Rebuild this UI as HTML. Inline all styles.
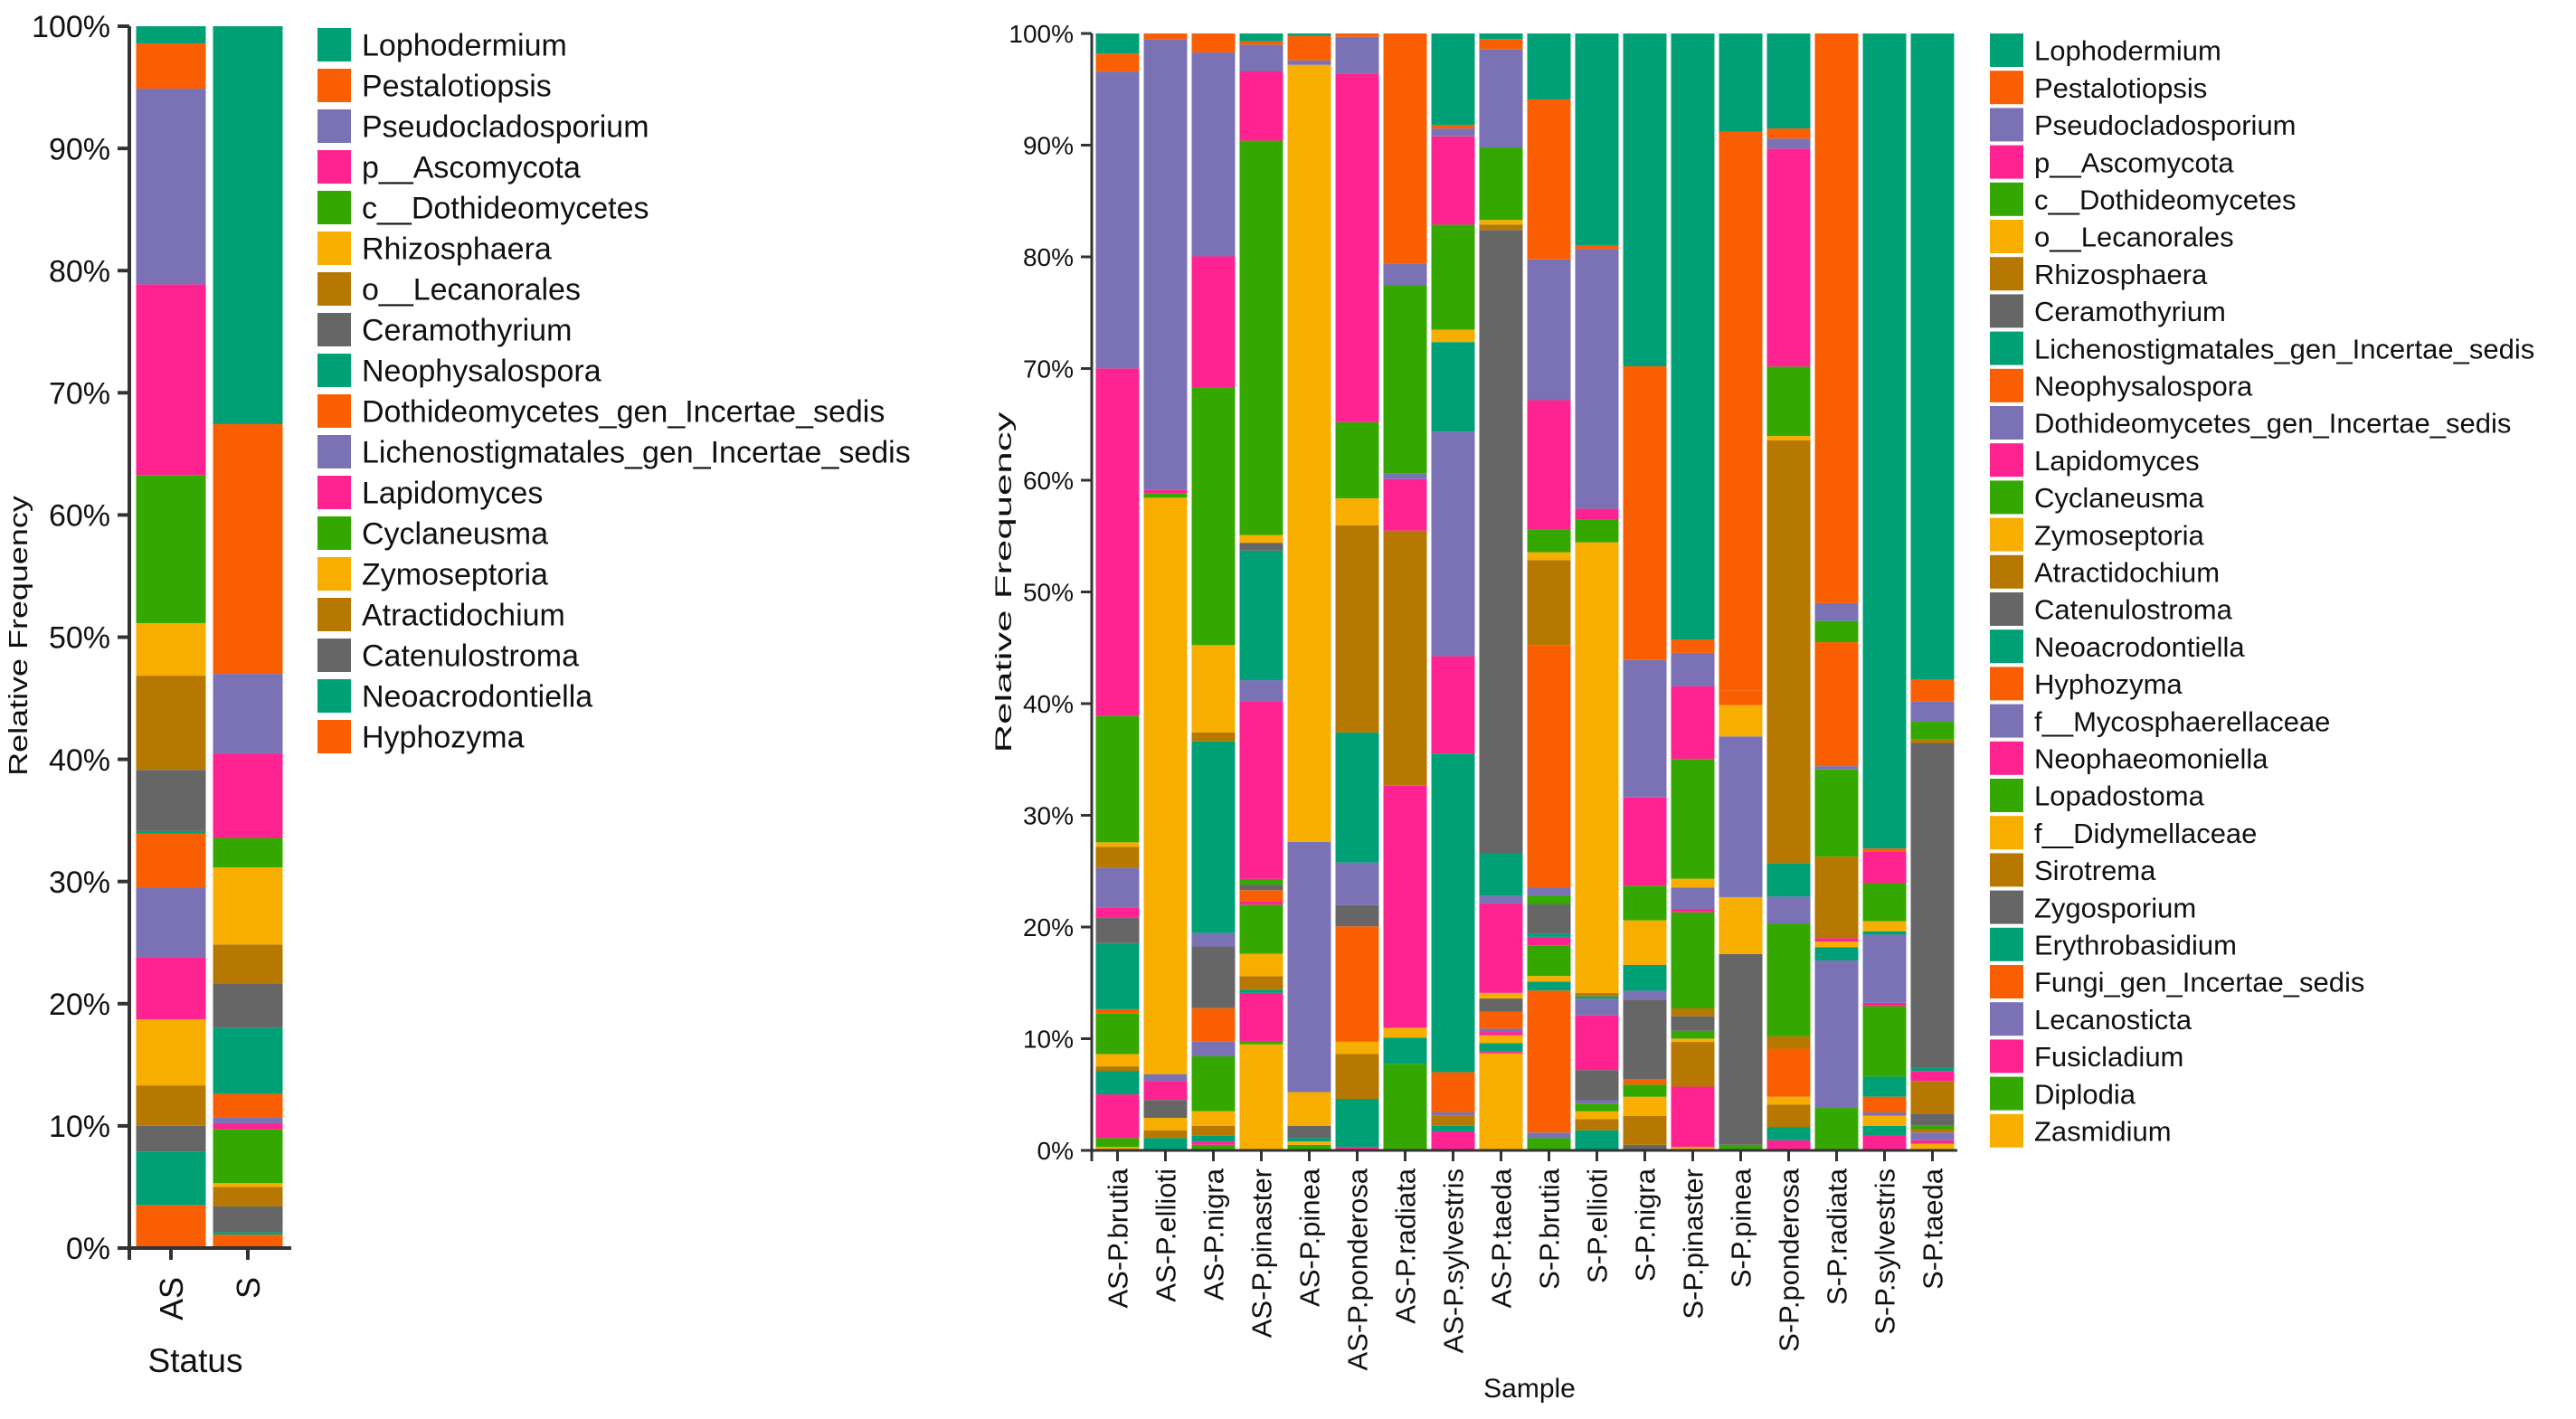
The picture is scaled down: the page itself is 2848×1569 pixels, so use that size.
<!DOCTYPE html>
<html><head><meta charset="utf-8"><style>
html,body{margin:0;padding:0;background:#fff;}
svg{display:block;font-family:"Liberation Sans",Arial,sans-serif;}
</style></head><body>
<svg id="fig" width="2848" height="1569" viewBox="0 0 2848 1569" xmlns="http://www.w3.org/2000/svg">
<g id="left"></g>
<g id="right"></g>
</svg>
<script>
// ---------- Left chart data (legend order, top of stack first) ----------
const statusCategories = ["AS", "S"];
const statusTaxa = ["Lophodermium","Pestalotiopsis","Pseudocladosporium","p__Ascomycota","c__Dothideomycetes","Rhizosphaera","o__Lecanorales","Ceramothyrium","Neophysalospora","Dothideomycetes_gen_Incertae_sedis","Lichenostigmatales_gen_Incertae_sedis","Lapidomyces","Cyclaneusma","Zymoseptoria","Atractidochium","Catenulostroma","Neoacrodontiella","Hyphozyma"];
const statusAS = [1.4,3.7,16.0,15.6,12.1,4.3,7.7,5.0,0.2,4.4,5.7,5.1,0,5.4,3.3,2.1,4.4,3.5];
const statusS = [32.5,20.4,6.5,6.9,2.4,6.3,3.2,3.6,5.4,1.9,0.5,0.5,4.4,0.3,1.6,2.1,0.2,1.1];
const yTickLabels = ["0%","10%","20%","30%","40%","50%","60%","70%","80%","90%","100%"];

// ---------- Right chart data ----------
const sampleCategories = ["AS-P.brutia","AS-P.ellioti","AS-P.nigra","AS-P.pinaster","AS-P.pinea","AS-P.ponderosa","AS-P.radiata","AS-P.sylvestris","AS-P.taeda","S-P.brutia","S-P.ellioti","S-P.nigra","S-P.pinaster","S-P.pinea","S-P.ponderosa","S-P.radiata","S-P.sylvestris","S-P.taeda"];
const sampleTaxa = ["Lophodermium","Pestalotiopsis","Pseudocladosporium","p__Ascomycota","c__Dothideomycetes","o__Lecanorales","Rhizosphaera","Ceramothyrium","Lichenostigmatales_gen_Incertae_sedis","Neophysalospora","Dothideomycetes_gen_Incertae_sedis","Lapidomyces","Cyclaneusma","Zymoseptoria","Atractidochium","Catenulostroma","Neoacrodontiella","Hyphozyma","f__Mycosphaerellaceae","Neophaeomoniella","Lopadostoma","f__Didymellaceae","Sirotrema","Zygosporium","Erythrobasidium","Fungi_gen_Incertae_sedis","Lecanosticta","Fusicladium","Diplodia","Zasmidium"];
const asBrutia = [1.8,1.6,26.5,31.0,11.3,0.4,1.9,0,0,0,3.5,0.9,0,0,0,2.3,5.9,0.4,0,0,3.6,1.1,0.4,0,2.1,0,0,3.9,0.8,0.3];
const asEllioti = [0,0.5,40.2,0.3,0.4,51.4,0,0,0,0,0.6,1.7,0,0,0,1.6,0,0,0,0,0,1.1,0.7,0,1.1,0,0,0,0,0];
const asNigra = [0,1.7,18.2,11.7,23.0,7.8,0.8,0,17.1,0,1.2,0,0,0,0,5.5,0,3.0,1.3,0,4.9,1.3,0.9,0,0.5,0,0,0.3,0.5,0];
const asPinaster = [0.7,0.3,2.4,6.2,35.3,0.7,0,0.7,11.6,0,1.9,15.9,0.5,0,0,0.5,0,1.0,0,0.3,4.4,2.0,1.2,0,0.3,0,0,4.3,0.3,9.5];
const asPinea = [0.2,2.2,0.4,0,0,69.3,0,0,0,0,22.3,0,0,3.0,0,1.1,0.3,0,0,0,0,0.3,0,0,0,0,0,0,0.5,0];
const asPonderosa = [0,0.3,3.3,31.1,6.8,2.4,18.5,0,11.6,0,3.8,0,0,0,0,1.9,0,10.3,0,0,0,1.1,4.0,0,4.3,0,0,0.3,0,0];
const asRadiata = [0,21.0,2.0,0,17.2,0,0,0,0,0,0.5,4.7,0,0,23.3,0,0,0,0,22.1,0,0.9,0,0,2.4,0,0,0,7.9,0];
const asSylvestris = [8.2,0.3,0.7,7.9,9.4,1.1,0,0,8.0,0,20.1,8.7,0,0,0,0,28.5,3.6,0.3,0,0,0,0.9,0,0.5,0,0,1.7,0,0];
const asTaeda = [0.5,0.9,8.8,0,6.5,0.4,0.5,55.8,3.8,0,0.7,8.0,0,0.5,0,1.2,0,1.5,0.3,0.3,0,0.7,0,0,0.7,0,0,0.2,0,8.7];
const sBrutia = [5.9,14.3,12.6,11.6,2.0,0.7,7.6,0,0,21.7,0.7,0,0.8,0,0,2.6,0.3,0,0,0.8,2.7,0.5,0,0,0.8,12.7,0.5,0,1.1,0];
const sEllioti = [19.0,0.3,23.3,1.0,2.0,40.4,0.3,0,0.2,0,1.5,4.9,0,0,0,2.7,0,0,0.3,0,0.7,0.7,1.0,0,1.8,0,0,0,0,0];
const sNigra = [29.8,26.3,12.3,7.9,3.1,4.0,0,0,2.3,0,0.8,0,0,0,0,7.1,0,0.5,0,0,1.1,1.7,2.6,0.5,0,0,0,0,0,0];
const sPinaster = [54.2,1.2,3.0,6.5,10.7,0.8,0,0,0,0,1.9,0.3,8.6,0,0.7,1.3,0,0,0,0,0.7,0.3,4.0,0,0,0,0,5.4,0,0.3];
const sPinea = [8.8,50.1,0,0,0,0,0,0,0,1.3,0,0,0,2.8,0,0,0,0,14.4,0,0,5.1,0,17.1,0,0,0,0,0.5,0];
const sPonderosa = [8.5,0.9,0.9,19.5,6.2,0.4,37.8,0,3.0,0,2.4,0,10.1,0,1.1,0,0,4.3,0,0,0,0.7,2.0,0,1.2,0,0,0.9,0,0];
const sRadiata = [0,51.0,1.6,0,1.9,0,0,0,0,11.1,0.3,0,7.8,0,7.3,0,0,0,0,0.3,0,0.5,0,0,1.2,0,13.2,0,3.8,0];
const sSylvestris = [72.9,0.3,0,2.8,3.4,0.9,0,0,0.3,0,6.1,0.3,6.3,0,0,0,1.8,1.4,0.3,0,0,0.9,0,0,0.9,0,0,1.3,0,0];
const sTaeda = [57.7,2.0,1.8,0,1.6,0,0.3,29.0,0.3,0,0,0.9,0,0,2.9,1.1,0,0,0,0,0.3,0,0.3,0,0,0,0.7,0.3,0,0.6];
const sampleValues = [asBrutia,asEllioti,asNigra,asPinaster,asPinea,asPonderosa,asRadiata,asSylvestris,asTaeda,sBrutia,sEllioti,sNigra,sPinaster,sPinea,sPonderosa,sRadiata,sSylvestris,sTaeda];

const palette = ["#00a077","#f95f02","#7a72b5","#fe2390","#34a800","#f8ae00","#b67800","#666666"];
const NS = "http://www.w3.org/2000/svg";
function mk(parent, tag, attrs, text) {
  const el = document.createElementNS(NS, tag);
  for (const k in attrs) el.setAttribute(k, attrs[k]);
  if (text !== undefined) el.textContent = text;
  parent.appendChild(el);
  return el;
}
function slug(s){return s.toLowerCase().replace(/[^a-z0-9]+/g,'-').replace(/^-|-$/g,'');}

function drawChart(g, cfg) {
  const y = v => cfg.y0 - (v/100)*(cfg.y0 - cfg.y1);
  // bars
  cfg.values.forEach((vals, i) => {
    const total = vals.reduce((a,b)=>a+b,0) || 1;
    const cx = cfg.x0 + i*cfg.step;
    let cum = 0;
    for (let k = vals.length-1; k >= 0; k--) {
      const v = vals[k]/total*100;
      if (v <= 0) continue;
      const top = y(cum+v), bot = y(cum);
      const r = mk(g,'rect',{x:cx-cfg.bw/2,y:top,width:cfg.bw,height:Math.max(bot-top,0.5),fill:palette[k%8]});
      
      
      cum += v;
    }
    // x tick
    const t = mk(g,'line',{x1:cx,x2:cx,y1:cfg.y0,y2:cfg.y0+cfg.tickLen,stroke:'#333','stroke-width':cfg.sw});
    
    
    const lx = cx + cfg.xfs*0.36;
    const lab = mk(g,'text',{x:lx,y:cfg.labTop,transform:`rotate(-90 ${lx} ${cfg.labTop})`,'text-anchor':'end','font-size':cfg.xfs,fill:'#111'},cfg.cats[i]);
    
    
  });
  // y ticks
  yTickLabels.forEach((s, j) => {
    const yy = y(j*10);
    const tk = mk(g,'line',{x1:cfg.axX-cfg.tickLen,x2:cfg.axX,y1:yy,y2:yy,stroke:'#333','stroke-width':cfg.sw});
    
    
    const tl = mk(g,'text',{x:cfg.axX-cfg.tickLen-8,y:yy+cfg.yfs*0.36,'text-anchor':'end','font-size':cfg.yfs,fill:'#111'},s);
    
    
  });
  const ya = mk(g,'line',{x1:cfg.axX,x2:cfg.axX,y1:cfg.y1,y2:cfg.y0+cfg.tickLen,stroke:'#333','stroke-width':cfg.sw});
  
  
  const xa = mk(g,'line',{x1:cfg.axX-cfg.tickLen,x2:cfg.axEnd,y1:cfg.y0,y2:cfg.y0,stroke:'#333','stroke-width':cfg.sw});
  
  
  // y title
  const yt = mk(g,'text',{transform:`translate(${cfg.ytX} ${cfg.ytY}) rotate(-90) scale(${cfg.ytStretch} 1)`,'text-anchor':'middle','font-size':cfg.ytfs,fill:'#111'},'Relative Frequency');
  
  
  const xt = mk(g,'text',{x:cfg.xtX,y:cfg.xtY,'text-anchor':'middle','font-size':cfg.xtfs,fill:'#111'},cfg.xTitle);
  
  
  // legend
  cfg.taxa.forEach((name, k) => {
    const ly = cfg.legY + k*cfg.legPitch;
    const sq = mk(g,'rect',{x:cfg.legX,y:ly,width:cfg.legSq,height:cfg.legSq,fill:palette[k%8]});
    
    
    const lt = mk(g,'text',{x:cfg.legX+cfg.legSq+12,y:ly+cfg.legSq/2+cfg.legfs*0.36,'font-size':cfg.legfs,fill:'#111'},name);
    
    
  });
}

drawChart(document.getElementById('left'), {
  cats: statusCategories, taxa: statusTaxa, values: [statusAS, statusS],
  y0: 1380, y1: 29, x0: 189, step: 85, bw: 77, axX: 143, axEnd: 322, tickLen: 13, sw: 4,
  xfs: 36, labTop: 1412, yfs: 34, ytX: 30, ytY: 703, ytfs: 29, ytStretch: 1.24,
  xTitle: 'Status', xtX: 216, xtY: 1517, xtfs: 37,
  legX: 351, legY: 31, legPitch: 45, legSq: 37, legfs: 34
});
drawChart(document.getElementById('right'), {
  cats: sampleCategories, taxa: sampleTaxa, values: sampleValues,
  y0: 1272, y1: 37, x0: 1235.5, step: 53, bw: 48, axX: 1207, axEnd: 2164, tickLen: 12, sw: 3,
  xfs: 31, labTop: 1292, yfs: 28, ytX: 1118, ytY: 644, ytfs: 25, ytStretch: 1.75,
  xTitle: 'Sample', xtX: 1691, xtY: 1545, xtfs: 30,
  legX: 2200, legY: 37, legPitch: 41.2, legSq: 37, legfs: 31
});
</script>
</body></html>
